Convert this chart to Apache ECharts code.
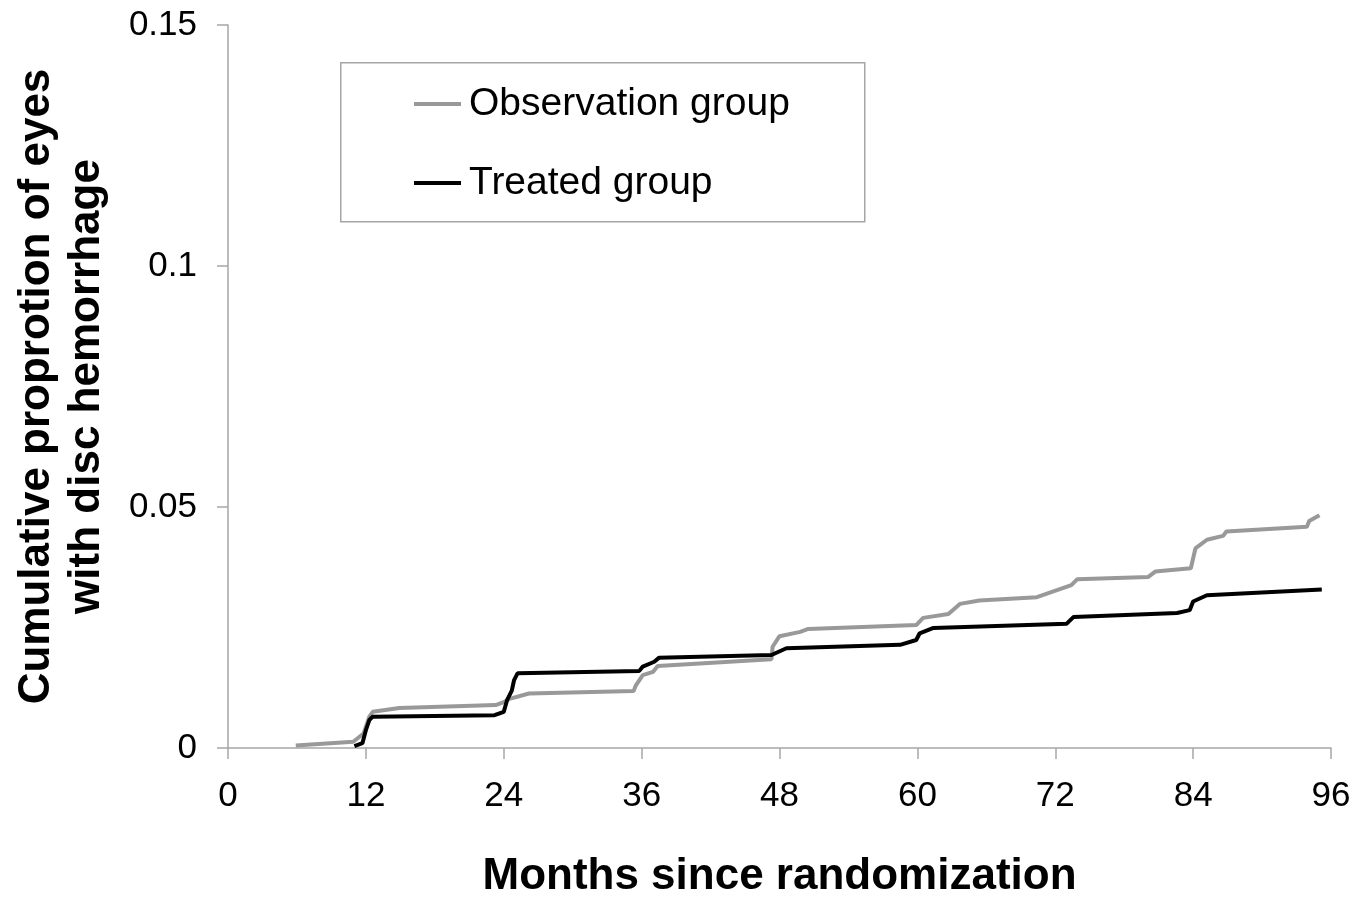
<!DOCTYPE html>
<html>
<head>
<meta charset="utf-8">
<script src="https://cdn.jsdelivr.net/npm/echarts@6/dist/echarts.min.js"></script>
<style>
  html, body { margin: 0; padding: 0; background: #fff; }
  #chart { width: 1370px; height: 901px; }
</style>
</head>
<body>
<div id="chart"></div>
<script>
// 数据：累积比例
var seriesNames = ['Observation group', 'Treated group'];
var xTicks = [0, 12, 24, 36, 48, 60, 72, 84, 96];
var yTicks = [0, 0.05, 0.1, 0.15];

var obsMonths = [5.9, 10.9, 11.8, 12.3, 12.6, 14.9, 23.3, 24.0, 24.5, 26.2, 35.3, 35.5, 36.1, 37.0, 37.4,
  47.3, 47.4, 48.0, 49.8, 50.5, 59.9, 60.5, 62.7, 63.7, 65.4, 70.4, 73.4, 73.9, 80.1, 80.7,
  83.8, 84.2, 85.2, 86.6, 86.9, 93.9, 94.1, 95.0];
var obsValues = [0.0005, 0.0013, 0.003, 0.0065, 0.0075, 0.0083, 0.0089, 0.0095, 0.0102, 0.0113, 0.0118, 0.013, 0.0151, 0.0158, 0.017,
  0.0184, 0.021, 0.0232, 0.0241, 0.0247, 0.0255, 0.027, 0.0278, 0.0299, 0.0306, 0.0313, 0.0338, 0.035, 0.0355, 0.0366,
  0.0373, 0.0414, 0.0432, 0.044, 0.0449, 0.0459, 0.0471, 0.0483];

var treatMonths = [11.0, 11.7, 12.0, 12.3, 12.6, 23.2, 24.0, 24.3, 24.7, 24.9, 25.2, 35.8, 36.1, 37.1, 37.5,
  47.3, 48.6, 58.5, 59.9, 60.2, 61.4, 73.0, 73.6, 82.6, 83.7, 84.0, 85.2, 95.2];
var treatValues = [0.0004, 0.001, 0.0037, 0.0058, 0.0065, 0.0068, 0.0075, 0.01, 0.0119, 0.0141, 0.0155, 0.016, 0.0169, 0.0179, 0.0187,
  0.0193, 0.0207, 0.0214, 0.0224, 0.0238, 0.0249, 0.0258, 0.0272, 0.028, 0.0286, 0.0304, 0.0317, 0.0329];

function pairs(xs, ys) {
  return xs.map(function (x, i) { return [x, ys[i]]; });
}

var font = 'Liberation Sans, Arial, sans-serif';
var axisGray = '#a6a6a6';

var myChart = echarts.init(document.getElementById('chart'));
var option = {
  backgroundColor: '#fff',
  animation: false,
  textStyle: { fontFamily: font },
  grid: { left: 228, right: 39, top: 25, bottom: 153, outerBoundsMode: 'none' },
  graphic: [{
    type: 'rect',
    left: 340, top: 62,
    shape: { width: 524, height: 159 },
    style: { fill: '#fff', stroke: axisGray, lineWidth: 1.5 },
    z: 0
  }],
  legend: {
    orient: 'vertical',
    left: 414, top: 84,
    itemWidth: 47, itemHeight: 4, itemGap: 39,
    icon: 'rect',
    padding: 0,
    textStyle: { fontFamily: font, fontSize: 39, color: '#000', lineHeight: 40, padding: [0, 0, 0, 3] },
    data: seriesNames
  },
  xAxis: {
    type: 'value',
    min: xTicks[0], max: xTicks[xTicks.length - 1], interval: 12,
    name: 'Months since randomization',
    nameLocation: 'middle',
    nameGap: 104,
    nameTextStyle: { fontFamily: font, fontSize: 44, fontWeight: 'bold', color: '#000', lineHeight: 50 },
    axisLine: { lineStyle: { color: axisGray, width: 1.5 } },
    axisTick: { show: true, inside: false, length: 11, lineStyle: { color: axisGray, width: 1.5 } },
    axisLabel: { fontFamily: font, fontSize: 35, color: '#000', margin: 31 },
    splitLine: { show: false }
  },
  yAxis: {
    type: 'value',
    min: yTicks[0], max: yTicks[yTicks.length - 1], interval: 0.05,
    name: 'Cumulative proprotion of eyes\nwith disc hemorrhage',
    nameLocation: 'middle',
    nameRotate: 90,
    nameGap: 116,
    nameTextStyle: { fontFamily: font, fontSize: 44, fontWeight: 'bold', color: '#000', lineHeight: 50 },
    axisLine: { show: true, lineStyle: { color: axisGray, width: 1.5 } },
    axisTick: { show: true, inside: false, length: 11, lineStyle: { color: axisGray, width: 1.5 } },
    axisLabel: {
      fontFamily: font, fontSize: 35, color: '#000', margin: 31,
      formatter: function (v) { return String(+v.toFixed(2)); }
    },
    splitLine: { show: false }
  },
  series: [{
    name: seriesNames[0],
    type: 'line',
    symbol: 'none',
    color: '#999999',
    lineStyle: { color: '#999999', width: 4 },
    data: pairs(obsMonths, obsValues),
    z: 2
  }, {
    name: seriesNames[1],
    type: 'line',
    symbol: 'none',
    color: '#000000',
    lineStyle: { color: '#000000', width: 4 },
    data: pairs(treatMonths, treatValues),
    z: 3
  }]
};
myChart.setOption(option);
</script>
</body>
</html>
